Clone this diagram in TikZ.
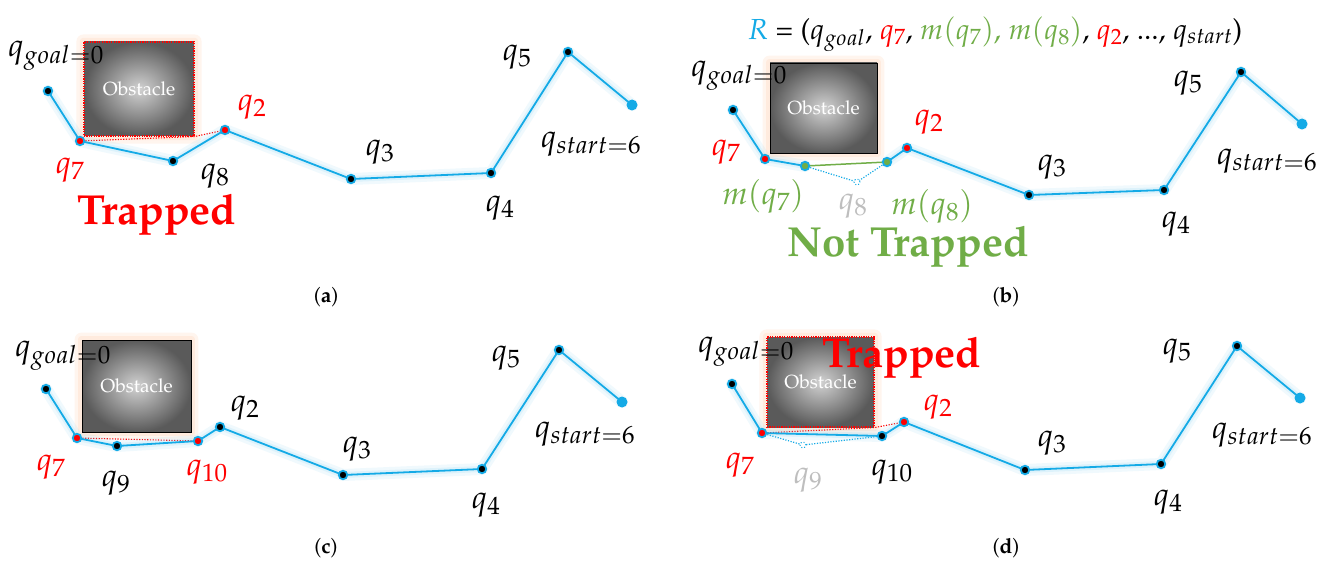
\documentclass[tikz,border=0pt]{standalone}
\usepackage[T1]{fontenc}
\usepackage{mathpazo}
\DeclareMathSizes{32}{32}{25}{20}
\definecolor{lb}{RGB}{20,170,230}
\definecolor{tg}{RGB}{112,173,71}
\definecolor{ghostgray}{RGB}{190,190,190}
\definecolor{obsin}{RGB}{210,210,210}
\definecolor{obsout}{RGB}{90,90,90}
\definecolor{obsglow}{RGB}{255,222,200}
\pgfdeclarelayer{bg}
\pgfsetlayers{bg,main}
\tikzset{
 bl/.style={draw=lb, line width=1.8pt, line join=round,
   preaction={draw=lb!60, line width=12pt, opacity=0.10, line cap=round, line join=round},
   preaction={draw=lb!60, line width=6pt, opacity=0.15, line cap=round, line join=round}},
 bdot/.style={circle, fill=black, draw=lb, line width=1.8pt, minimum size=8.5pt, inner sep=0pt},
 rdot/.style={bdot, fill=red},
 gdot/.style={bdot, fill=tg},
 sdot/.style={circle, fill=lb, minimum size=11pt, inner sep=0pt},
 ghost/.style={circle, draw=lb, dotted, line width=1pt, fill=white, minimum size=6pt, inner sep=0pt},
 obs/.style={inner sep=0pt, shading=radial, inner color=obsin, outer color=obsout, text=white, font=\fontsize{19}{22}\selectfont},
 obsred/.style={obs, draw=red, dash pattern=on 1.2pt off 1.2pt, line width=1.1pt},
 obsblack/.style={obs, draw=black, line width=0.8pt},
 lab/.style={inner sep=0pt, font=\fontsize{32}{38}\selectfont},
 bigword/.style={inner sep=0pt, font=\fontsize{42}{50}\selectfont\bfseries},
 capt/.style={inner sep=0pt, font=\fontsize{21}{25}\selectfont},
 rdotted/.style={draw=red, dash pattern=on 1.2pt off 1.5pt, line width=1.1pt},
 bdotted/.style={draw=lb, dash pattern=on 1.2pt off 1.5pt, line width=1.2pt},
 haloA/.style={fill=obsglow, opacity=0.3, rounded corners=7pt},
 haloB/.style={fill=obsglow, opacity=0.4, rounded corners=3pt},
}
\begin{document}
\begin{tikzpicture}[x=1pt,y=-1pt]
\useasboundingbox (0,0) rectangle (1319,561);
\begin{pgfonlayer}{bg}
\fill[white] (0,0) rectangle (1319,561);
\end{pgfonlayer}

% ================= panel (a) =================
\node[bdot] (a0) at (48,91) {};
\node[rdot] (a7) at (80,141) {};
\node[bdot] (a8) at (173,161) {};
\node[rdot] (a2) at (225,130) {};
\node[bdot] (a3) at (351,179) {};
\node[bdot] (a4) at (491,173) {};
\node[bdot] (a5) at (568,52) {};
\node[sdot] (a6) at (632,105) {};
\node[obsred, minimum width=110pt, minimum height=94pt] (aobs) at (139,89) {Obstacle};
\begin{pgfonlayer}{bg}
\fill[haloA] ([shift={(-7,7)}]aobs.south west) rectangle ([shift={(7,-7)}]aobs.north east);
\fill[haloB] ([shift={(-3.5,3.5)}]aobs.south west) rectangle ([shift={(3.5,-3.5)}]aobs.north east);
\draw[rdotted] (a7.center) -- (aobs.south east) -- (a2.center);
\draw[bl] (a0.center) -- (a7.center) -- (a8.center) -- (a2.center) -- (a3.center) -- (a4.center) -- (a5.center) -- (a6.center);
\end{pgfonlayer}
\node[lab] (la0) at (56,56) {$q_{goal=0}$};
\node[lab, text=red] (la7) at (70,170) {$q_7$};
\node[lab] (la8) at (215,176) {$q_8$};
\node[lab, text=red] (la2) at (252,107) {$q_2$};
\node[lab] (la3) at (380,152) {$q_3$};
\node[lab] (la4) at (500,208) {$q_4$};
\node[lab] (la5) at (517,57) {$q_5$};
\node[lab] (la6) at (591,144) {$q_{start=6}$};
\node[bigword, text=red] (atrap) at (157,215) {Trapped};
\node[capt] (acap) at (326,297) {(\textbf{a})};

% ================= panel (b) =================
\node[bdot] (b0) at (733,110) {};
\node[rdot] (b7) at (765,159) {};
\node[gdot] (bm7) at (805,166) {};
\node[ghost] (bg8) at (857,182) {};
\node[gdot] (bm8) at (887,162) {};
\node[rdot] (b2) at (907,148) {};
\node[bdot] (b3) at (1029,195) {};
\node[bdot] (b4) at (1164,190) {};
\node[bdot] (b5) at (1241,72) {};
\node[sdot] (b6) at (1302,124) {};
\node[obsblack, minimum width=107pt, minimum height=90pt] (bobs) at (823.5,108) {Obstacle};
\begin{pgfonlayer}{bg}
\fill[haloA] ([shift={(-7,7)}]bobs.south west) rectangle ([shift={(7,-7)}]bobs.north east);
\fill[haloB] ([shift={(-3.5,3.5)}]bobs.south west) rectangle ([shift={(3.5,-3.5)}]bobs.north east);
\draw[bdotted] (bm7.center) -- (bg8.center) -- (bm8.center);
\draw[draw=tg, line width=1.5pt] (bm7.center) -- (bm8.center);
\draw[bl] (b0.center) -- (b7.center) -- (bm7.center);
\draw[bl] (bm8.center) -- (b2.center) -- (b3.center) -- (b4.center) -- (b5.center) -- (b6.center);
\end{pgfonlayer}
\node[inner sep=0pt, font=\fontsize{29}{34}\selectfont] (btitle) at (995,34)
  {{\color{lb}$R$} = ($q_{goal}$, {\color{red}$q_7$}, {\color{tg}$m(q_7)$, $m(q_8)$}, {\color{red}$q_2$}, ..., $q_{start}$)};
\node[lab] (lb0) at (739,76) {$q_{goal=0}$};
\node[lab, text=red] (lb7) at (726,152) {$q_7$};
\node[lab, text=tg] (lbm7) at (763,196) {$m(q_7)$};
\node[lab, text=ghostgray] (lb8) at (853,206) {$q_8$};
\node[lab, text=tg] (lbm8) at (932,206) {$m(q_8)$};
\node[lab, text=red] (lb2) at (929,122) {$q_2$};
\node[lab] (lb3) at (1052,167) {$q_3$};
\node[lab] (lb4) at (1176,224) {$q_4$};
\node[lab] (lb5) at (1188,83) {$q_5$};
\node[lab] (lb6) at (1267,161) {$q_{start=6}$};
\node[bigword, text=tg] (bnot) at (908,247) {Not Trapped};
\node[capt] (bcap) at (1006,297) {(\textbf{b})};

% ================= panel (c) =================
\node[bdot] (c0) at (46,389) {};
\node[rdot] (c7) at (77,438) {};
\node[bdot] (c9) at (117,446) {};
\node[rdot] (c10) at (198,441) {};
\node[bdot] (c2) at (220,427) {};
\node[bdot] (c3) at (343,475) {};
\node[bdot] (c4) at (482,469) {};
\node[bdot] (c5) at (559,350) {};
\node[sdot] (c6) at (622,402) {};
\node[obsblack, minimum width=109pt, minimum height=92pt] (cobs) at (136.5,386) {Obstacle};
\begin{pgfonlayer}{bg}
\fill[haloA] ([shift={(-7,7)}]cobs.south west) rectangle ([shift={(7,-7)}]cobs.north east);
\fill[haloB] ([shift={(-3.5,3.5)}]cobs.south west) rectangle ([shift={(3.5,-3.5)}]cobs.north east);
\draw[rdotted] (c7.center) -- (c10.center);
\draw[bl] (c0.center) -- (c7.center) -- (c9.center) -- (c10.center) -- (c2.center) -- (c3.center) -- (c4.center) -- (c5.center) -- (c6.center);
\end{pgfonlayer}
\node[lab] (lc0) at (63,356) {$q_{goal=0}$};
\node[lab, text=red] (lc7) at (51,467) {$q_7$};
\node[lab] (lc9) at (116,483) {$q_9$};
\node[lab, text=red] (lc10) at (207,472) {$q_{10}$};
\node[lab] (lc2) at (245,408) {$q_2$};
\node[lab] (lc3) at (357,449) {$q_3$};
\node[lab] (lc4) at (486,505) {$q_4$};
\node[lab] (lc5) at (506,358) {$q_5$};
\node[lab] (lc6) at (585,434) {$q_{start=6}$};
\node[capt] (ccap) at (326,548) {(\textbf{c})};

% ================= panel (d) =================
\node[bdot] (d0) at (732,384) {};
\node[rdot] (d7) at (762,433) {};
\node[ghost] (dg9) at (803,445) {};
\node[bdot] (d10) at (882,436) {};
\node[rdot] (d2) at (904,422) {};
\node[bdot] (d3) at (1025,470) {};
\node[bdot] (d4) at (1161,464) {};
\node[bdot] (d5) at (1237,346) {};
\node[sdot] (d6) at (1300,398) {};
\node[obsred, minimum width=107pt, minimum height=90pt] (dobs) at (820.5,382) {Obstacle};
\begin{pgfonlayer}{bg}
\fill[haloA] ([shift={(-7,7)}]dobs.south west) rectangle ([shift={(7,-7)}]dobs.north east);
\fill[haloB] ([shift={(-3.5,3.5)}]dobs.south west) rectangle ([shift={(3.5,-3.5)}]dobs.north east);
\draw[rdotted] (d7.center) -- (dobs.south east) -- (d2.center);
\draw[bdotted] (d7.center) -- (dg9.center) -- (d10.center);
\draw[bl] (d0.center) -- (d7.center) -- (d10.center) -- (d2.center) -- (d3.center) -- (d4.center) -- (d5.center) -- (d6.center);
\end{pgfonlayer}
\node[lab] (ld0) at (746,352) {$q_{goal=0}$};
\node[bigword, text=red] (dtrap) at (902,358) {Trapped};
\node[lab, text=red] (ld7) at (740,465) {$q_7$};
\node[lab, text=ghostgray] (ld9) at (808,480) {$q_9$};
\node[lab] (ld10) at (892,472) {$q_{10}$};
\node[lab, text=red] (ld2) at (938,407) {$q_2$};
\node[lab] (ld3) at (1052,443) {$q_3$};
\node[lab] (ld4) at (1168,502) {$q_4$};
\node[lab] (ld5) at (1177,351) {$q_5$};
\node[lab] (ld6) at (1262,435) {$q_{start=6}$};
\node[capt] (dcap) at (1006,548) {(\textbf{d})};
\end{tikzpicture}
\end{document}
